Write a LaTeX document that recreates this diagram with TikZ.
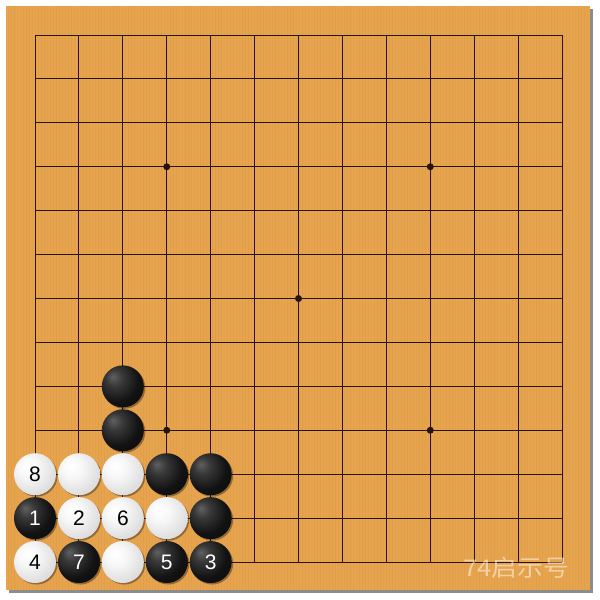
\documentclass[tikz,border=0pt]{standalone}
\usepackage{fontspec}
\setmainfont{Liberation Sans}
\newfontfamily\cjk{Noto Sans CJK SC}
\usetikzlibrary{shadows}
\definecolor{boardc}{RGB}{231,164,78}
\definecolor{boardd}{RGB}{205,138,58}
\definecolor{gridc}{RGB}{40,20,10}
\pgfdeclareradialshading{bshade}{\pgfpoint{-12bp}{12bp}}{color(0bp)=(black!62); color(10bp)=(black!78); color(26bp)=(black!93); color(70bp)=(black)}
\pgfdeclareradialshading{wshade}{\pgfpoint{-10bp}{10bp}}{color(0bp)=(white); color(12bp)=(white!97!black); color(32bp)=(white!86!black); color(48bp)=(white!72!black); color(70bp)=(white!55!black)}
\tikzset{
  stonebase/.style={circle, minimum size=42pt, inner sep=0pt,
    font=\fontsize{21}{21}\selectfont,
    drop shadow={shadow xshift=1.5pt, shadow yshift=-1.5pt, opacity=.35, fill=black}},
  bstone/.style={stonebase, shading=bshade, text=white},
  wstone/.style={stonebase, shading=wshade, text=black},
  star/.style={circle, fill=gridc, minimum size=7pt, inner sep=0pt},
  gridline/.style={gridc, line width=0.9pt}
}
\begin{document}
\begin{tikzpicture}[x=1pt,y=-1pt]
\useasboundingbox (0,0) rectangle (600,600);
\fill[white] (0,0) rectangle (600,600);
\fill[black!45] (9,9) rectangle (593,593);
\fill[boardc] (6,6) rectangle (590,590);
% wood grain
\foreach \x [count=\n] in {8,11,...,588} {
  \pgfmathsetmacro{\op}{0.08+0.14*abs(sin(mod(\n*37,360)))}
  \draw[boardd, line width=0.8pt, opacity=\op] (\x,6) -- (\x,590);
}
% grid
\foreach \i in {0,...,12} {
  \draw[gridline] ({35+43.92*\i},35) -- ({35+43.92*\i},562);
  \draw[gridline] (35,{35+43.92*\i}) -- (562,{35+43.92*\i});
}
% star points
\foreach \c/\r [count=\k] in {3/3,9/3,6/6,3/9,9/9} {
  \node[star] (hoshi\k) at ({35+43.92*\c},{35+43.92*\r}) {};
}
% stones
\foreach \c/\r/\t [count=\k] in {2/8/,2/9/,3/10/,4/10/,0/11/1,4/11/,1/12/7,3/12/5,4/12/3} {
  \node[bstone] (b\k) at ({35+43.92*\c},{35+43.92*\r}) {\t};
}
\foreach \c/\r/\t [count=\k] in {0/10/8,1/10/,2/10/,1/11/2,2/11/6,3/11/,0/12/4,2/12/} {
  \node[wstone] (w\k) at ({35+43.92*\c},{35+43.92*\r}) {\t};
}
% watermark
\node[anchor=west, text=white, opacity=0.5, font=\cjk\fontsize{23}{23}\selectfont, inner sep=0pt, xscale=1.12] (wm) at (463,568) {74启示号};
\end{tikzpicture}
\end{document}
